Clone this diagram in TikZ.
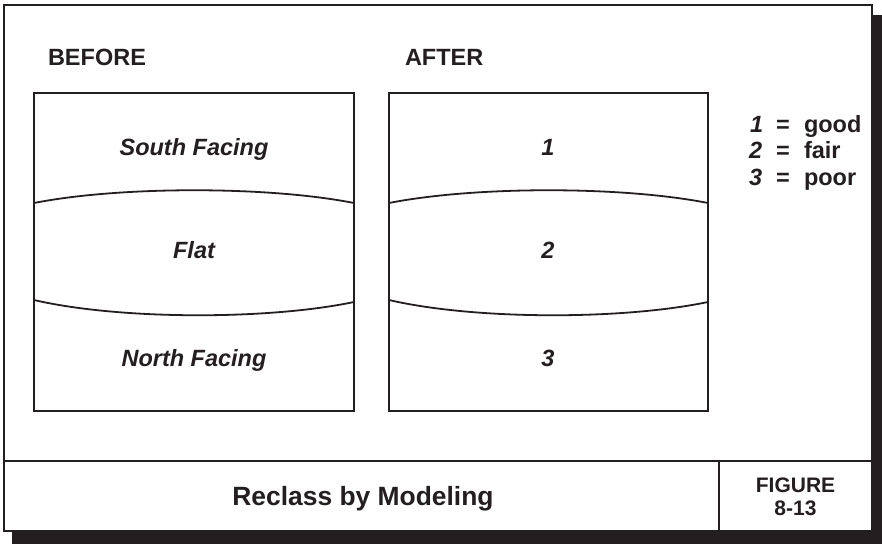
\documentclass[tikz,border=0pt]{standalone}
\usepackage{fontspec}
\setmainfont{Liberation Sans}
\definecolor{ink}{RGB}{35,31,32}
\begin{document}
\begin{tikzpicture}[x=1pt,y=-1pt,line width=2pt,draw=ink,
  lbl/.style={text=ink,anchor=base,font=\fontsize{23.5}{28}\selectfont\bfseries\itshape,inner sep=0pt},
  head/.style={text=ink,anchor=base west,font=\fontsize{23.5}{28}\selectfont\bfseries,inner sep=0pt},
  legend/.style={text=ink,anchor=base west,font=\fontsize{23.5}{28}\selectfont\bfseries,inner sep=0pt},
  fig/.style={text=ink,anchor=base,font=\fontsize{21}{25}\selectfont\bfseries,inner sep=0pt},
  panel/.style={draw=ink,line width=2pt},
  wave/.style={draw=ink,line width=1.8pt}
]
\useasboundingbox (0,0) rectangle (882,544);
% shadow and frame
\fill[ink] (12,15) rectangle (882,544);
\draw[fill=white] (4,5) rectangle (872,531);
% title bar
\coordinate (tl) at (4,461);
\coordinate (tr) at (872,461);
\coordinate (dt) at (719,461);
\coordinate (db) at (719,531);
\draw (tl) -- (tr);
\draw (dt) -- (db);
\node[text=ink,anchor=base,font=\fontsize{26.4}{30}\selectfont\bfseries,inner sep=0pt] (title) at (363,505) {Reclass by Modeling};
\node[fig] (figa) at (795.5,492) {FIGURE};
\node[fig] (figb) at (795.5,515) {8-13};
% headings
\node[head] (before) at (47,65.5) {BEFORE};
\node[head] (after) at (404,65.5) {AFTER};
% panels
\draw[panel] (34,93) rectangle (354,411);
\draw[panel] (389,93) rectangle (708,411);
% curves left
\draw[wave] (34,203) .. controls (120,186) and (268,186) .. (354,203);
\draw[wave] (34,300) .. controls (120,320) and (268,320) .. (354,302);
% curves right
\draw[wave] (389,203) .. controls (475,186) and (622,186) .. (708,203);
\draw[wave] (389,300) .. controls (475,320) and (622,320) .. (708,302);
% labels
\node[lbl] (south) at (194,155) {South Facing};
\node[lbl] (flat) at (194,258) {Flat};
\node[lbl] (north) at (194,366) {North Facing};
\node[lbl] (one) at (548,155) {1};
\node[lbl] (two) at (548,258) {2};
\node[lbl] (three) at (548,366) {3};
% legend
\node[legend] (lg1) at (749,132) {\makebox[26pt][l]{\itshape 1}\makebox[28pt][l]{=}good};
\node[legend] (lg2) at (748,158.5) {\makebox[27pt][l]{\itshape 2}\makebox[28pt][l]{=}fair};
\node[legend] (lg3) at (748,185) {\makebox[27pt][l]{\itshape 3}\makebox[28pt][l]{=}poor};
\end{tikzpicture}
\end{document}
